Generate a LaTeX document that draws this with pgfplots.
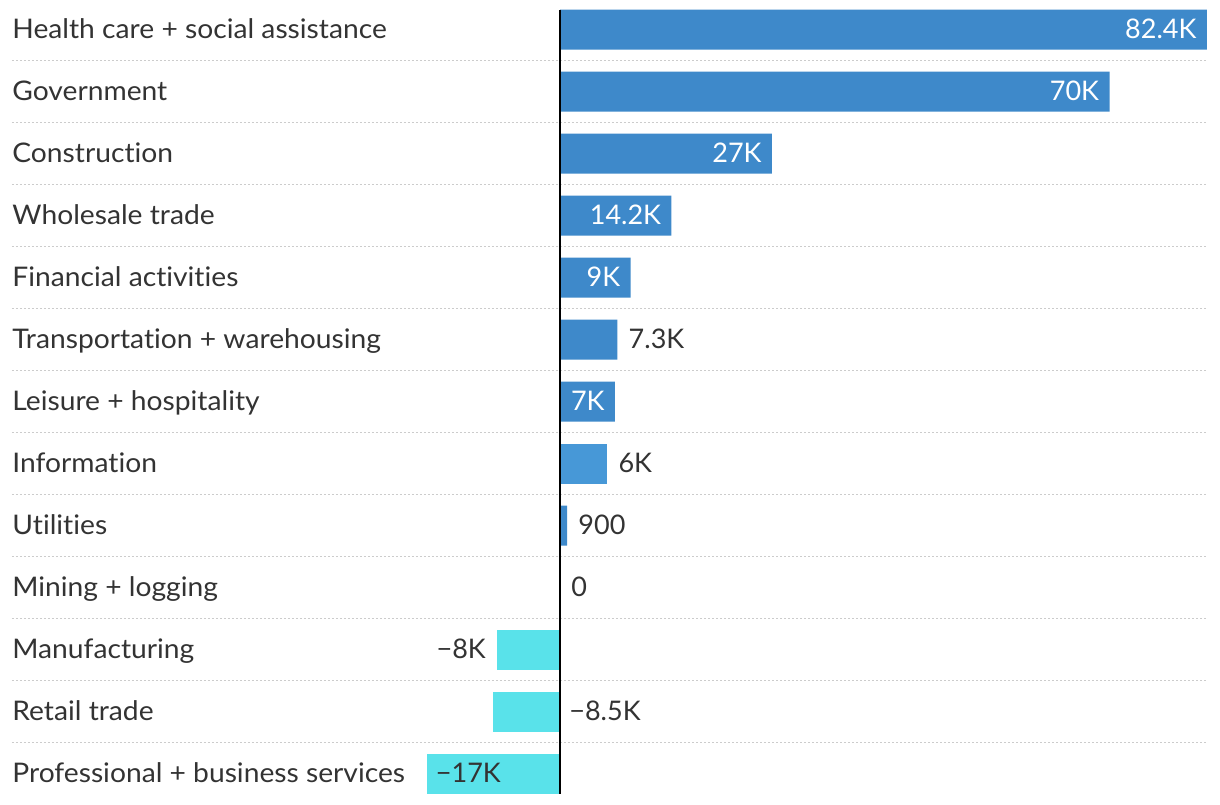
\documentclass[border=0pt]{standalone}
\usepackage{pgfplots}
\pgfplotsset{compat=1.18}
\usepackage{fontspec}
\setmainfont{Lato}[Ligatures=NoCommon]
\newfontfamily\catfont{Lato}[FakeStretch=1.045, Ligatures=NoCommon]
\definecolor{bblue}{HTML}{3E89CA}
\definecolor{lblue}{HTML}{4798D7}
\definecolor{cyanbar}{HTML}{59E2EA}
\definecolor{txt}{HTML}{333333}
\definecolor{gridc}{HTML}{CCCCCC}
\newcommand{\lbl}{\fontsize{13.5}{16}\selectfont}
\tikzset{cat/.style={anchor=base west, inner sep=0pt, text=txt, font=\catfont\lbl, yshift=-4.4pt}}
\begin{document}
\begin{tikzpicture}
\begin{axis}[
  scale only axis, width=610pt, height=402pt,
  xmin=-71.338, xmax=84.076, ymin=-0.476, ymax=12.492, y dir=reverse,
  axis lines=none, clip=false,
  xbar, bar width=20pt, /pgf/bar shift=0pt,
  point meta=explicit symbolic,
  every node near coord/.append style={font=\lbl, inner sep=0pt, text=txt},
]
% dotted separators
\pgfplotsinvokeforeach{0,...,11}{
  \draw[gridc, line width=0.8pt, dash pattern=on 0.8pt off 1.2pt] (axis cs:-69.81,#1+0.5) -- (axis cs:82.4,#1+0.5);
}
% blue bars with white labels inside
\addplot[fill=bblue, draw=none, nodes near coords,
  every node near coord/.append style={anchor=base east, xshift=-5pt, yshift=-4.4pt, text=white}]
  table[x=x, y=y, meta=l] {
x y l
82.4 0 82.4K
70 1 70K
27 2 27K
14.2 3 14.2K
9 4 9K
7 6 7K
};
% blue bars with labels outside
\addplot[fill=bblue, draw=none, nodes near coords,
  every node near coord/.append style={anchor=base west, xshift=5.5pt, yshift=-4.4pt}]
  table[x=x, y=y, meta=l] {
x y l
7.3 5 7.3K
0.9 8 900
0 9 0
};
% information (lighter)
\addplot[fill=lblue, draw=none, nodes near coords,
  every node near coord/.append style={anchor=base west, xshift=5.5pt, yshift=-4.4pt}]
  table[x=x, y=y, meta=l] {
x y l
6 7 6K
};
% negative: manufacturing (label left)
\addplot[fill=cyanbar, draw=none, nodes near coords,
  every node near coord/.append style={anchor=base east, xshift=-5.5pt, yshift=-4.4pt}]
  table[x=x, y=y, meta=l] {
x y l
-8 10 −8K
};
% negative: professional (label inside)
\addplot[fill=cyanbar, draw=none, nodes near coords,
  every node near coord/.append style={anchor=base west, xshift=4.5pt, yshift=-4.4pt}]
  table[x=x, y=y, meta=l] {
x y l
-17 12 −17K
};
% negative: retail (bar, no label)
\addplot[fill=cyanbar, draw=none] table[x=x, y=y] {
x y
-8.5 11
};
% retail label right of zero line
\addplot[draw=none, fill=none, nodes near coords,
  every node near coord/.append style={anchor=base west, xshift=4.5pt, yshift=-4.4pt}]
  table[x=x, y=y, meta=l] {
x y l
0 11 −8.5K
};
% zero line
\draw[black, line width=1.1pt] (axis cs:0,-0.3226) -- (axis cs:0,12.3226);
% category labels
\node[cat] at (axis cs:-69.81,0) {Health care + social assistance};
\node[cat] at (axis cs:-69.81,1) {Government};
\node[cat] at (axis cs:-69.81,2) {Construction};
\node[cat] at (axis cs:-69.81,3) {Wholesale trade};
\node[cat] at (axis cs:-69.81,4) {Financial activities};
\node[cat] at (axis cs:-69.81,5) {Transportation + warehousing};
\node[cat] at (axis cs:-69.81,6) {Leisure + hospitality};
\node[cat] at (axis cs:-69.81,7) {Information};
\node[cat] at (axis cs:-69.81,8) {Utilities};
\node[cat] at (axis cs:-69.81,9) {Mining + logging};
\node[cat] at (axis cs:-69.81,10) {Manufacturing};
\node[cat] at (axis cs:-69.81,11) {Retail trade};
\node[cat] at (axis cs:-69.81,12) {Professional + business services};
\path (rel axis cs:0,0) rectangle (rel axis cs:1,1);
\end{axis}
\end{tikzpicture}
\end{document}
